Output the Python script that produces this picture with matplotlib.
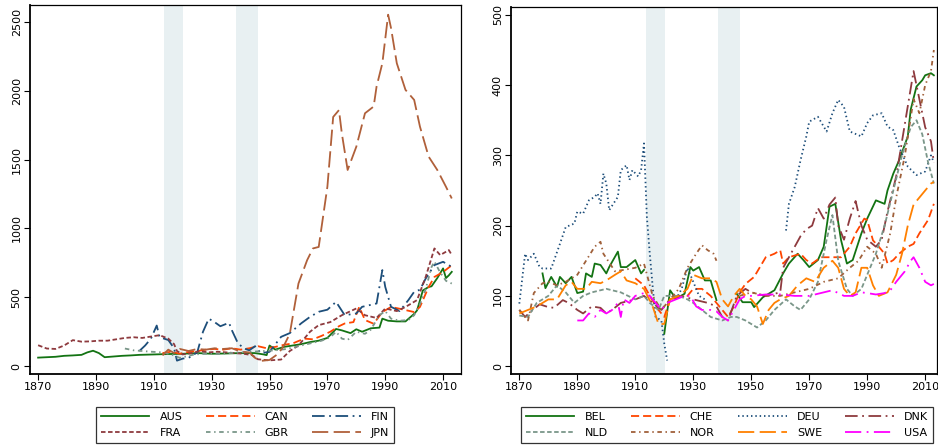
import matplotlib
matplotlib.use("Agg")
import matplotlib.pyplot as plt
import numpy as np

# ---------------- Left panel data ----------------
aus_years = [1870, 1873, 1876, 1879, 1882, 1885, 1887, 1889, 1891, 1893, 1896, 1899, 1902, 1905, 1910, 1915, 1920, 1925, 1930, 1935, 1940, 1945, 1948, 1949, 1950, 1952, 1955, 1958, 1961, 1964, 1967, 1970, 1973, 1975, 1978, 1980, 1982, 1985, 1988, 1989, 1991, 1994, 1997, 2000, 2001, 2003, 2005, 2006, 2008, 2010, 2011, 2012, 2013]
aus_vals = [62, 65, 68, 75, 78, 82, 100, 112, 95, 65, 70, 75, 78, 82, 85, 88, 90, 95, 90, 92, 95, 95, 85, 80, 150, 120, 140, 150, 160, 175, 185, 205, 270, 260, 240, 268, 250, 275, 280, 345, 330, 325, 325, 380, 405, 550, 575, 580, 640, 710, 640, 660, 685]

can_years = [1913, 1916, 1919, 1921, 1925, 1928, 1931, 1934, 1937, 1940, 1943, 1946, 1949, 1952, 1955, 1958, 1962, 1965, 1968, 1971, 1974, 1976, 1979, 1981, 1983, 1986, 1989, 1992, 1995, 2000, 2002, 2005, 2007, 2010, 2013]
can_vals = [95, 105, 90, 100, 110, 120, 125, 120, 130, 120, 130, 145, 130, 140, 155, 165, 200, 195, 220, 250, 290, 310, 320, 430, 335, 308, 393, 430, 417, 393, 430, 575, 648, 684, 733]

fin_years = [1905, 1907, 1909, 1911, 1912, 1915, 1917, 1918, 1920, 1922, 1925, 1927, 1929, 1931, 1933, 1936, 1937, 1939, 1941, 1943, 1945, 1947, 1950, 1954, 1957, 1961, 1964, 1967, 1970, 1973, 1976, 1980, 1982, 1987, 1989, 1990, 1992, 1995, 1998, 2000, 2002, 2004, 2007, 2010, 2013]
fin_vals = [110, 150, 200, 295, 210, 190, 130, 40, 55, 60, 100, 250, 345, 320, 290, 315, 260, 170, 130, 115, 145, 94, 104, 213, 240, 312, 358, 395, 410, 467, 370, 383, 431, 455, 698, 576, 431, 400, 480, 540, 555, 637, 734, 758, 721]

fra_years = [1870, 1873, 1876, 1879, 1882, 1885, 1888, 1891, 1894, 1897, 1900, 1903, 1906, 1909, 1912, 1915, 1917, 1918, 1920, 1923, 1926, 1929, 1932, 1935, 1938, 1941, 1944, 1946, 1950, 1954, 1957, 1960, 1964, 1967, 1971, 1975, 1980, 1983, 1987, 1990, 1994, 1997, 2001, 2004, 2007, 2009, 2012, 2013]
fra_vals = [152, 128, 125, 150, 189, 178, 180, 185, 185, 195, 205, 210, 205, 215, 225, 200, 160, 110, 85, 95, 110, 100, 105, 100, 95, 90, 80, 50, 42, 48, 110, 150, 250, 298, 320, 370, 419, 370, 350, 419, 400, 430, 480, 649, 855, 807, 843, 807]

gbr_years = [1900, 1903, 1906, 1909, 1913, 1916, 1919, 1921, 1924, 1928, 1932, 1936, 1940, 1944, 1948, 1952, 1956, 1960, 1964, 1968, 1971, 1973, 1975, 1977, 1980, 1983, 1985, 1988, 1990, 1992, 1995, 1998, 2000, 2002, 2004, 2006, 2007, 2009, 2011, 2013]
gbr_vals = [128, 115, 110, 105, 100, 85, 60, 70, 85, 90, 88, 95, 100, 105, 110, 115, 125, 145, 165, 185, 210, 250, 200, 190, 250, 235, 265, 370, 400, 345, 330, 335, 370, 450, 560, 720, 760, 680, 620, 600]

jpn_years = [1913, 1915, 1917, 1919, 1922, 1925, 1928, 1931, 1934, 1937, 1940, 1943, 1945, 1947, 1950, 1953, 1955, 1957, 1960, 1963, 1965, 1967, 1970, 1972, 1974, 1975, 1977, 1980, 1983, 1986, 1987, 1989, 1991, 1992, 1994, 1997, 2000, 2002, 2005, 2008, 2011, 2013]
jpn_vals = [78, 120, 95, 125, 110, 125, 120, 130, 125, 130, 105, 100, 60, 38, 45, 90, 150, 235, 600, 770, 855, 866, 1303, 1810, 1860, 1690, 1425, 1594, 1837, 1886, 2031, 2200, 2553, 2456, 2200, 2007, 1934, 1740, 1522, 1425, 1303, 1218]

# ---------------- Right panel data ----------------
bel_years = [1878, 1879, 1881, 1883, 1884, 1886, 1888, 1890, 1892, 1893, 1895, 1896, 1898, 1900, 1901, 1904, 1905, 1907, 1910, 1912, 1913, None,
             1920, 1922, 1924, 1927, 1929, 1930, 1932, 1934, 1936, 1938, None,
             1945, 1947, 1950, 1951, 1954, 1958, 1961, 1963, 1966, 1968, 1970, 1973, 1975, 1977, 1979, 1981, 1983, 1985, 1988, 1990, 1993, 1996, 1997, 1999, 2001, 2004, 2005, 2007, 2009, 2010, 2012, 2013]
bel_vals = [132, 111, 127, 113, 127, 118, 127, 104, 106, 132, 127, 146, 144, 132, 141, 163, 141, 141, 151, 132, 137, None,
            46, 108, 96, 103, 141, 136, 141, 122, 122, 94, None,
            103, 91, 91, 84, 98, 108, 132, 146, 160, 151, 141, 151, 170, 227, 231, 179, 146, 151, 189, 210, 236, 231, 250, 274, 293, 327, 365, 398, 407, 414, 417, 414]

che_years = [1910, 1913, 1915, 1918, 1920, 1922, 1925, 1928, 1930, 1933, 1936, 1940, 1942, 1944, 1946, 1948, 1951, 1953, 1955, 1958, 1960, 1961, 1963, 1967, 1969, 1971, 1974, 1976, 1979, 1981, 1984, 1986, 1989, 1990, 1992, 1994, 1996, 1997, 1999, 2001, 2004, 2006, 2008, 2011, 2013]
che_vals = [125, 115, 100, 80, 70, 95, 100, 100, 110, 110, 100, 80, 70, 85, 105, 117, 127, 141, 155, 160, 165, 146, 155, 160, 151, 146, 155, 155, 155, 155, 170, 189, 210, 208, 179, 170, 160, 146, 151, 160, 170, 174, 189, 208, 231]

deu_years = [1870, 1872, 1873, 1875, 1877, 1878, 1881, 1884, 1886, 1889, 1890, 1892, 1894, 1896, 1897, 1898, 1899, 1900, 1901, 1904, 1905, 1907, 1908, 1909, 1911, 1912, 1913, 1914, 1915, 1916, 1917, 1919, 1920, 1921, None,
             1924, 1926, 1928, 1930, 1932, 1934, None,
             1962, 1963, 1965, 1967, 1969, 1970, 1973, 1976, 1978, 1980, 1982, 1984, 1988, 1990, 1992, 1995, 1997, 1999, 2001, 2004, 2007, 2010, 2012, 2013]
deu_vals = [89, 160, 151, 160, 141, 139, 139, 174, 198, 203, 220, 217, 236, 241, 246, 231, 274, 260, 222, 241, 279, 286, 265, 279, 270, 279, 317, 212, 160, 113, 70, 65, 32, 8, None,
            95, 110, 140, 120, 100, 95, None,
            193, 231, 255, 293, 327, 348, 355, 334, 360, 379, 369, 334, 327, 346, 357, 360, 341, 336, 312, 284, 272, 277, 300, 290]

dnk_years = [1870, 1872, 1874, 1877, 1880, 1882, 1885, 1887, 1890, 1892, 1895, 1898, 1900, 1902, 1905, 1910, 1913, 1916, 1919, 1922, 1926, 1930, 1935, 1938, 1940, 1942, 1945, 1948, 1950, 1955, 1960, 1961, 1963, 1965, 1967, 1969, 1971, 1973, 1975, 1977, 1979, 1980, 1982, 1984, 1986, 1988, 1990, 1993, 1995, 1997, 2000, 2002, 2004, 2006, 2008, 2010, 2012, 2013]
dnk_vals = [80, 70, 78, 88, 84, 83, 94, 90, 80, 75, 85, 83, 75, 80, 90, 95, 100, 90, 80, 95, 100, 95, 90, 85, 70, 65, 100, 110, 105, 100, 105, 140, 155, 170, 185, 195, 200, 225, 210, 230, 240, 200, 180, 210, 235, 200, 180, 170, 180, 220, 270, 320, 370, 420, 380, 340, 320, 290]

nld_years = [1870, 1873, 1876, 1880, 1883, 1886, 1889, 1892, 1895, 1900, 1905, 1910, 1913, 1915, 1918, 1920, 1925, 1928, 1930, 1933, 1936, 1940, 1943, 1945, 1948, 1952, 1955, 1958, 1962, 1965, 1967, 1970, 1973, 1976, 1978, 1980, 1983, 1985, 1988, 1990, 1993, 1996, 1999, 2002, 2005, 2007, 2009, 2011, 2013]
nld_vals = [72, 70, 90, 100, 115, 105, 90, 100, 105, 110, 105, 95, 100, 90, 80, 100, 100, 95, 90, 80, 70, 65, 70, 70, 65, 55, 65, 80, 95, 85, 80, 95, 120, 180, 215, 150, 110, 100, 110, 130, 160, 200, 250, 300, 340, 350, 330, 290, 260]

nor_years = [1870, 1873, 1875, 1878, 1880, 1883, 1886, 1890, 1893, 1896, 1898, 1899, 1903, 1906, 1910, 1913, 1916, 1919, 1922, 1925, 1928, 1931, 1933, 1935, 1937, 1938, None,
             1946, 1950, 1955, 1960, 1965, 1970, 1975, 1980, 1984, 1987, 1990, 1993, 1995, 1998, 2000, 2003, 2006, 2008, 2010, 2012, 2013]
nor_vals = [80, 65, 104, 118, 120, 115, 120, 130, 150, 170, 177, 160, 135, 137, 140, 146, 100, 80, 95, 110, 140, 160, 172, 165, 160, 150, None,
            100, 105, 100, 100, 105, 110, 120, 125, 140, 150, 170, 160, 140, 190, 240, 300, 380, 360, 400, 420, 450]

swe_years = [1870, 1873, 1876, 1880, 1883, 1886, 1888, 1890, 1893, 1895, 1898, 1900, 1903, 1905, 1907, 1910, 1913, 1916, 1918, 1920, 1922, 1925, 1928, 1930, 1933, 1936, 1938, 1940, 1942, 1944, 1946, 1948, 1950, 1952, 1954, 1956, 1958, 1960, 1963, 1966, 1969, 1972, 1975, 1978, 1980, 1982, 1984, 1986, 1988, 1990, 1992, 1994, 1997, 2000, 2002, 2004, 2006, 2008, 2010, 2012, 2013]
swe_vals = [75, 80, 85, 95, 95, 115, 120, 110, 110, 120, 118, 122, 130, 135, 122, 118, 110, 85, 60, 60, 95, 100, 110, 130, 125, 125, 120, 95, 85, 100, 110, 100, 95, 85, 60, 80, 90, 95, 100, 115, 125, 120, 140, 150, 140, 110, 100, 105, 140, 140, 115, 100, 105, 130, 160, 200, 230, 240, 250, 260, 262]

usa_years = [1890, 1892, 1894, 1896, 1898, 1900, 1902, 1904, 1905, 1906, 1908, 1910, 1913, 1915, 1917, 1919, 1921, 1924, 1927, 1929, 1931, 1933, 1936, 1938, 1940, 1942, 1944, 1946, 1948, 1950, 1955, 1960, 1965, 1970, 1975, 1978, 1982, 1985, 1988, 1990, 1993, 1996, 1998, 2000, 2003, 2005, 2006, 2008, 2010, 2012, 2013]
usa_vals = [65, 65, 75, 70, 80, 75, 80, 90, 70, 95, 90, 100, 104, 100, 90, 80, 90, 95, 100, 100, 85, 80, 80, 78, 70, 65, 80, 95, 100, 100, 102, 102, 100, 100, 105, 108, 100, 100, 105, 104, 102, 104, 108, 120, 135, 150, 155, 140, 120, 115, 117]

wars = [(1913.6, 1920.2), (1938.5, 1946.1)]

left_series = [
    ("AUS", aus_years, aus_vals, "#137313", "-"),
    ("CAN", can_years, can_vals, "#FF4500", (0, (4.5, 2.2))),
    ("FIN", fin_years, fin_vals, "#1D4E7A", (0, (7, 2.5, 1, 2.5))),
    ("FRA", fra_years, fra_vals, "#8E3A3E", (0, (2.5, 1.4))),
    ("GBR", gbr_years, gbr_vals, "#7A9689", (0, (2.5, 2, 0.8, 2))),
    ("JPN", jpn_years, jpn_vals, "#B0603A", (0, (9, 3))),
]
right_series = [
    ("BEL", bel_years, bel_vals, "#137313", "-"),
    ("CHE", che_years, che_vals, "#FF4500", (0, (4.5, 2.2))),
    ("DEU", deu_years, deu_vals, "#1D4E7A", (0, (0.8, 1.6))),
    ("DNK", dnk_years, dnk_vals, "#8E3A3E", (0, (7, 2.5, 1, 2.5))),
    ("NLD", nld_years, nld_vals, "#7A9689", (0, (2.5, 1.4))),
    ("NOR", nor_years, nor_vals, "#A0603A", (0, (2.5, 2, 0.8, 2))),
    ("SWE", swe_years, swe_vals, "#FF8000", (0, (9, 3))),
    ("USA", usa_years, usa_vals, "#FF00FF", (0, (9, 3, 1, 3))),
]


def clean(xs, ys):
    x = np.array([np.nan if v is None else v for v in xs], dtype=float)
    y = np.array([np.nan if v is None else v for v in ys], dtype=float)
    return x, y


fig = plt.figure(figsize=(9.38, 4.47), dpi=100)
axL = fig.add_axes([0.032, 0.163, 0.4595, 0.826])
axR = fig.add_axes([0.545, 0.163, 0.454, 0.821])


def style(ax, xlim, ylim, yticks):
    ax.set_xlim(*xlim)
    ax.set_ylim(*ylim)
    ax.set_xticks(range(1870, 2011, 20))
    ax.set_yticks(yticks)
    ax.tick_params(axis='both', labelsize=8, length=4, width=0.8, color='black', pad=2)
    for lab in ax.get_yticklabels():
        lab.set_rotation(90)
        lab.set_va('center')
    for s in ax.spines.values():
        s.set_linewidth(0.9)
        s.set_color('black')
    ax.spines['bottom'].set_linewidth(1.3)
    ax.spines['left'].set_linewidth(1.3)
    for a, b in wars:
        ax.axvspan(a, b, color="#E8F0F2", lw=0, zorder=0)


def draw(ax, series, order):
    handles = {}
    for name, xs, ys, col, ls in series:
        x, y = clean(xs, ys)
        ln, = ax.plot(x, y, color=col, linestyle=ls, lw=1.3, label=name, zorder=2)
        handles[name] = ln
    return [handles[n] for n in order]


hL = draw(axL, left_series, ["AUS", "FRA", "CAN", "GBR", "FIN", "JPN"])
hR = draw(axR, right_series, ["BEL", "NLD", "CHE", "NOR", "DEU", "SWE", "DNK", "USA"])
style(axL, (1867.2, 2016.2), (-58, 2624), [0, 500, 1000, 1500, 2000, 2500])
style(axR, (1867.2, 2014.1), (-11.4, 511), [0, 100, 200, 300, 400, 500])

legkw = dict(ncol=3, fontsize=8, frameon=True, fancybox=False, edgecolor='black',
             handlelength=4.4, handletextpad=0.9, columnspacing=2.1, labelspacing=0.55,
             borderpad=0.45, loc='upper center')
lg1 = fig.legend(handles=hL, labels=[h.get_label() for h in hL], bbox_to_anchor=(0.261, 0.102), **legkw)
legkw['ncol'] = 4
lg2 = fig.legend(handles=hR, labels=[h.get_label() for h in hR], bbox_to_anchor=(0.775, 0.102), **legkw)
for lg in (lg1, lg2):
    lg.get_frame().set_linewidth(0.9)

fig.savefig("out.png", dpi=100)
